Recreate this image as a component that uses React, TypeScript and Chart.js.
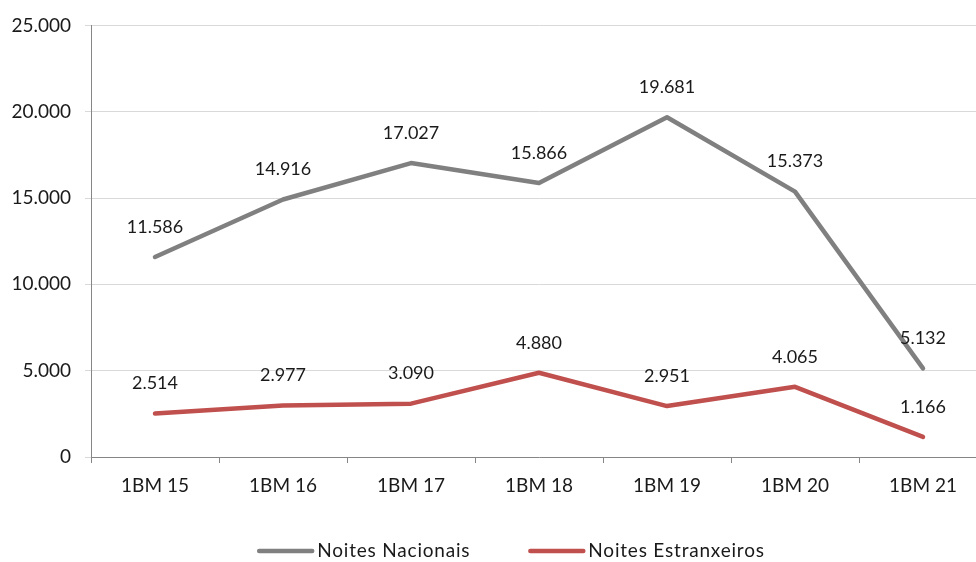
import React, { useEffect, useRef } from "react";
import { Chart, registerables } from "chart.js";

Chart.register(...registerables);

const categories = ["1BM 15", "1BM 16", "1BM 17", "1BM 18", "1BM 19", "1BM 20", "1BM 21"];
const nacionais = [11586, 14916, 17027, 15866, 19681, 15373, 5132];
const estrangeiros = [2514, 2977, 3090, 4880, 2951, 4065, 1166];
const seriesNames = ["Noites Nacionais", "Noites Estranxeiros"];
const yTicks = [0, 5000, 10000, 15000, 20000, 25000];

const FONT = "Lato, 'Open Sans', sans-serif";
const GRAY = "#808080";
const RED = "#c0504d";
const TEXT = "#1a1a1a";

function fmt(v: number): string {
  const s = Math.round(v).toString();
  return s.replace(/\B(?=(\d{3})+(?!\d))/g, ".");
}

const dataLabelPlugin = {
  id: "dataLabels",
  afterDatasetsDraw(chart: any) {
    const ctx = chart.ctx;
    ctx.save();
    ctx.font = `18px ${FONT}`;
    ctx.fillStyle = TEXT;
    ctx.textAlign = "center";
    ctx.textBaseline = "middle";
    chart.data.datasets.forEach((ds: any, i: number) => {
      const meta = chart.getDatasetMeta(i);
      meta.data.forEach((pt: any, j: number) => {
        ctx.fillText(fmt(ds.data[j]), pt.x, pt.y - 30);
      });
    });
    ctx.restore();
  },
};

const legendPlugin = {
  id: "customLegend",
  afterDraw(chart: any) {
    const ctx = chart.ctx;
    ctx.save();
    ctx.font = `19px ${FONT}`;
    try {
      (ctx as any).letterSpacing = "0.8px";
    } catch (e) {}
    ctx.textBaseline = "middle";
    ctx.textAlign = "left";
    const lineW = 57;
    const gap = 3;
    const itemGap = 58;
    const widths = chart.data.datasets.map((d: any) => ctx.measureText(d.label).width);
    const total =
      widths.reduce((a: number, b: number) => a + b, 0) +
      chart.data.datasets.length * (lineW + gap) +
      itemGap * (chart.data.datasets.length - 1);
    let x = 511 - total / 2;
    const y = 551;
    chart.data.datasets.forEach((d: any, i: number) => {
      ctx.strokeStyle = d.borderColor;
      ctx.lineWidth = 4.5;
      ctx.lineCap = "round";
      ctx.beginPath();
      ctx.moveTo(x + 2, y);
      ctx.lineTo(x + lineW - 2, y);
      ctx.stroke();
      x += lineW + gap;
      ctx.fillStyle = TEXT;
      ctx.fillText(d.label, x, y);
      x += widths[i] + itemGap;
    });
    ctx.restore();
  },
};

export default function App() {
  const ref = useRef<HTMLCanvasElement>(null);
  useEffect(() => {
    if (!ref.current) return;
    const chart = new Chart(ref.current, {
      type: "line",
      data: {
        labels: categories,
        datasets: [
          {
            label: seriesNames[0],
            data: nacionais,
            borderColor: GRAY,
            backgroundColor: GRAY,
            borderWidth: 4.5,
            pointRadius: 0,
            borderJoinStyle: "round",
            borderCapStyle: "round",
            tension: 0,
          },
          {
            label: seriesNames[1],
            data: estrangeiros,
            borderColor: RED,
            backgroundColor: RED,
            borderWidth: 4.5,
            pointRadius: 0,
            borderJoinStyle: "round",
            borderCapStyle: "round",
            tension: 0,
          },
        ],
      },
      options: {
        responsive: false,
        animation: false,
        devicePixelRatio: 1,
        layout: { padding: { top: 23, left: 0, right: 13, bottom: 57 } },
        plugins: { legend: { display: false }, tooltip: { enabled: false } },
        scales: {
          x: {
            type: "category",
            offset: true,
            grid: {
              offset: true,
              drawOnChartArea: false,
              drawTicks: true,
              tickLength: 6,
              color: "#868686",
            },
            border: { color: "#868686", width: 1 },
            ticks: {
              padding: 11,
              color: TEXT,
              font: { family: FONT, size: 19 },
              maxRotation: 0,
            },
            afterFit(scale: any) {
              scale.height = 48;
            },
          },
          y: {
            min: 0,
            max: 25000,
            afterBuildTicks(scale: any) {
              scale.ticks = yTicks.map((v) => ({ value: v }));
            },
            grid: { color: "#d9d9d9", tickLength: 6, lineWidth: 1 },
            border: { color: "#868686", width: 1 },
            ticks: {
              padding: 14,
              color: TEXT,
              font: { family: FONT, size: 19 },
              callback: (v: any) => fmt(Number(v)),
            },
            afterFit(scale: any) {
              scale.width = 91;
            },
          },
        },
      },
      plugins: [dataLabelPlugin, legendPlugin],
    } as any);
    return () => chart.destroy();
  }, []);
  return (
    <div
      style={{
        position: "fixed",
        left: 0,
        top: 0,
        width: 976,
        height: 562,
        overflow: "hidden",
        background: "#fff",
      }}
    >
      <canvas ref={ref} width={1000} height={562} style={{ display: "block", width: 1000, height: 562 }} />
    </div>
  );
}
